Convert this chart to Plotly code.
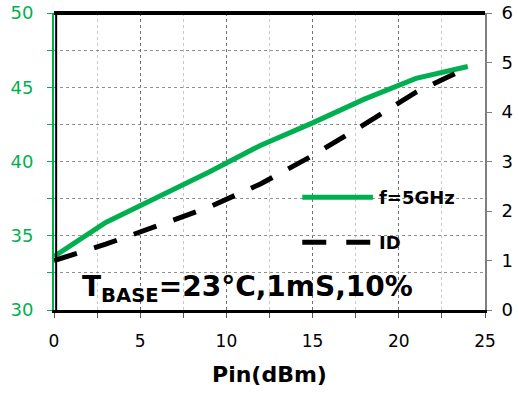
import plotly.graph_objects as go

pin = [0, 3, 6, 9, 12, 15, 18, 21, 24]
pout = [33.6, 35.9, 37.6, 39.3, 41.1, 42.6, 44.2, 45.6, 46.4]
pin_id = [0, 3, 6, 9, 12, 15, 18, 21, 24]
id_vals = [1.0, 1.33, 1.7, 2.08, 2.55, 3.12, 3.75, 4.4, 4.9]

GREEN = "#00B050"
FONT = "DejaVu Sans"

fig = go.Figure()
fig.add_trace(go.Scatter(x=pin, y=pout, mode="lines", name="f=5GHz",
                         line=dict(color=GREEN, width=5), showlegend=False))
fig.add_trace(go.Scatter(x=pin_id, y=id_vals, mode="lines", name="ID", yaxis="y2",
                         line=dict(color="black", width=5, dash="24px,18px"),
                         showlegend=False))

fig.update_layout(
    width=519, height=394,
    margin=dict(l=54, r=34, t=13, b=84),
    plot_bgcolor="white", paper_bgcolor="white",
    font=dict(family=FONT, size=17, color="black"),
    xaxis=dict(range=[0, 25], dtick=5, tick0=0, automargin=False,
               showline=True, linecolor="black", linewidth=3,
               ticks="outside", ticklen=5, tickcolor="#555", tickwidth=1,
               ticklabelstandoff=9, ticklabeloverflow="allow",
               showgrid=True, gridcolor="#707070", griddash="dot", gridwidth=1,
               minor=dict(dtick=2.5, showgrid=True, gridcolor="#c8c8c8", griddash="dot",
                          ticks="outside", ticklen=5, tickcolor="#555"),
               zeroline=False,
               title=dict(text="<b>Pin(dBm)</b>", font=dict(size=22), standoff=17)),
    yaxis=dict(range=[30, 50], dtick=5, tick0=30, automargin=False,
               showline=True, linecolor=GREEN, linewidth=2,
               ticks="outside", ticklen=5, tickcolor=GREEN,
               ticklabelstandoff=10, ticklabeloverflow="allow",
               tickfont=dict(color=GREEN, size=18),
               showgrid=True, gridcolor="#909090", griddash="dot",
               minor=dict(dtick=2.5, showgrid=True, gridcolor="#909090", griddash="dot",
                          ticks="outside", ticklen=5, tickcolor=GREEN),
               zeroline=False),
    yaxis2=dict(range=[0, 6], dtick=1, overlaying="y", side="right", automargin=False,
                showline=True, linecolor="#808080", linewidth=2,
                ticks="outside", ticklen=5, tickcolor="#808080",
                ticklabelstandoff=6, ticklabeloverflow="allow",
                tickfont=dict(size=18),
                showgrid=False, zeroline=False),
)

# black top and left borders of plot area
fig.add_shape(type="line", xref="paper", yref="paper", x0=0, x1=1, y0=1, y1=1,
              line=dict(color="black", width=4))
fig.add_shape(type="line", xref="paper", yref="paper", x0=0.005, x1=0.005, y0=0, y1=1,
              line=dict(color="black", width=2))

# manual legend
fig.add_shape(type="line", xref="paper", yref="paper", x0=0.576, x1=0.74, y0=0.38, y1=0.38,
              line=dict(color=GREEN, width=5))
fig.add_shape(type="line", xref="paper", yref="paper", x0=0.576, x1=0.74, y0=0.228, y1=0.228,
              line=dict(color="black", width=5, dash="24px,20px"))
fig.add_annotation(xref="paper", yref="paper", x=0.75, y=0.38, xanchor="left", yanchor="middle",
                   text="<b>f=5GHz</b>", showarrow=False, font=dict(size=18, color="black"))
fig.add_annotation(xref="paper", yref="paper", x=0.75, y=0.228, xanchor="left", yanchor="middle",
                   text="<b>ID</b>", showarrow=False, font=dict(size=18, color="black"))

fig.add_annotation(xref="paper", yref="paper", x=0.06, y=0.005, xanchor="left", yanchor="bottom",
                   text="<b>T<sub>BASE</sub>=23°C,1mS,10%</b>", showarrow=False,
                   font=dict(size=28, color="black"))

fig.write_html("out.html", config={"displayModeBar": False},
               post_script="document.body.style.margin='0';")
